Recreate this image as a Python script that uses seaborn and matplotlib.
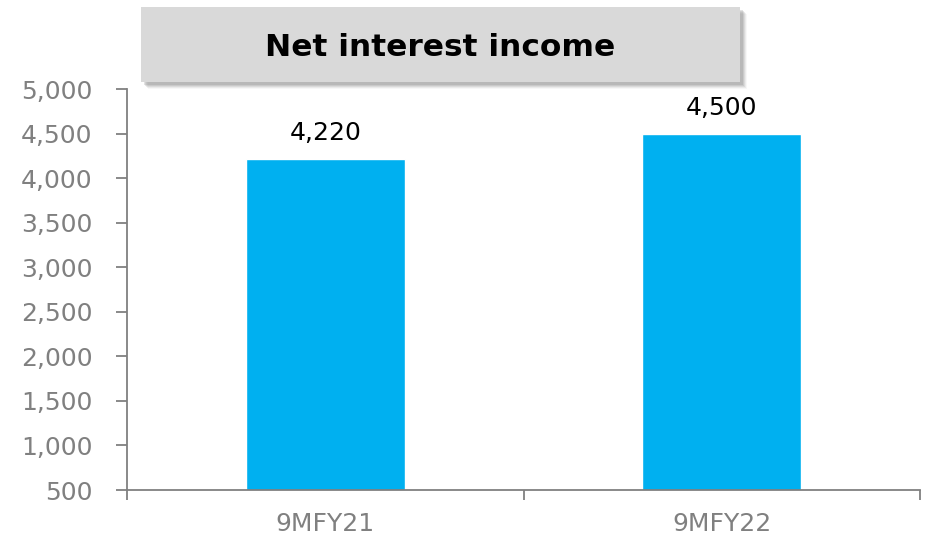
import matplotlib
matplotlib.use("Agg")
import matplotlib.pyplot as plt
import seaborn as sns
import pandas as pd
from matplotlib.patches import Rectangle
from matplotlib.ticker import FuncFormatter, FixedLocator

categories = ["9MFY21", "9MFY22"]
values = [4220, 4500]
title = "Net interest income"

BAR_COLOR = "#00B0F0"
TICK_GREY = "#808080"

df = pd.DataFrame({"period": categories, "nii": values})

sns.set_style("white")
plt.rcParams["font.family"] = ["DejaVu Sans"]

W, H = 926, 541
fig = plt.figure(figsize=(W / 100, H / 100), dpi=100)
ax = fig.add_axes([127 / W, 1 - 490 / H, (920 - 127) / W, (490 - 89) / H])

sns.barplot(data=df, x="period", y="nii", color=BAR_COLOR, width=0.4,
            saturation=1, ax=ax)

ax.set_ylim(500, 5000)
ax.set_xlim(-0.5, 1.5)
ax.set_yticks(range(500, 5001, 500))
ax.yaxis.set_major_formatter(FuncFormatter(lambda v, p: f"{int(v):,}"))
ax.set_xlabel("")
ax.set_ylabel("")

for s in ["top", "right"]:
    ax.spines[s].set_visible(False)
for s in ["left", "bottom"]:
    ax.spines[s].set_color(TICK_GREY)
    ax.spines[s].set_linewidth(1.3)

ax.tick_params(axis="y", left=True, length=8, width=1.3, color=TICK_GREY,
               labelsize=18, labelcolor=TICK_GREY, pad=17)
ax.tick_params(axis="x", which="major", bottom=False, labelsize=18,
               labelcolor=TICK_GREY, pad=12)
ax.xaxis.set_minor_locator(FixedLocator([-0.5, 0.5, 1.5]))
ax.tick_params(axis="x", which="minor", bottom=True, length=7, width=1.3,
               color=TICK_GREY)

for i, v in enumerate(values):
    ax.annotate(f"{v:,}", (i, v), xytext=(0, 10), textcoords="offset points",
                ha="center", va="bottom", fontsize=18, color="black")

# title box with soft shadow
x0, y0, x1, y1 = 141, 7, 740, 82
for k, a in [(7, 0.06), (6, 0.10), (5, 0.14), (4, 0.18), (3, 0.22)]:
    fig.patches.append(Rectangle(((x0 + k) / W, 1 - (y1 + k) / H),
                                 (x1 - x0) / W, (y1 - y0) / H,
                                 transform=fig.transFigure,
                                 facecolor="#7F7F7F", alpha=a, edgecolor="none",
                                 zorder=0))
fig.patches.append(Rectangle((x0 / W, 1 - y1 / H), (x1 - x0) / W, (y1 - y0) / H,
                             transform=fig.transFigure, facecolor="#D9D9D9",
                             edgecolor="none", zorder=1))
fig.text(((x0 + x1) / 2) / W, 1 - 48 / H, title, ha="center", va="center",
         fontsize=22.5, fontweight="bold", color="black", zorder=2)

fig.savefig("out.png", dpi=100)
